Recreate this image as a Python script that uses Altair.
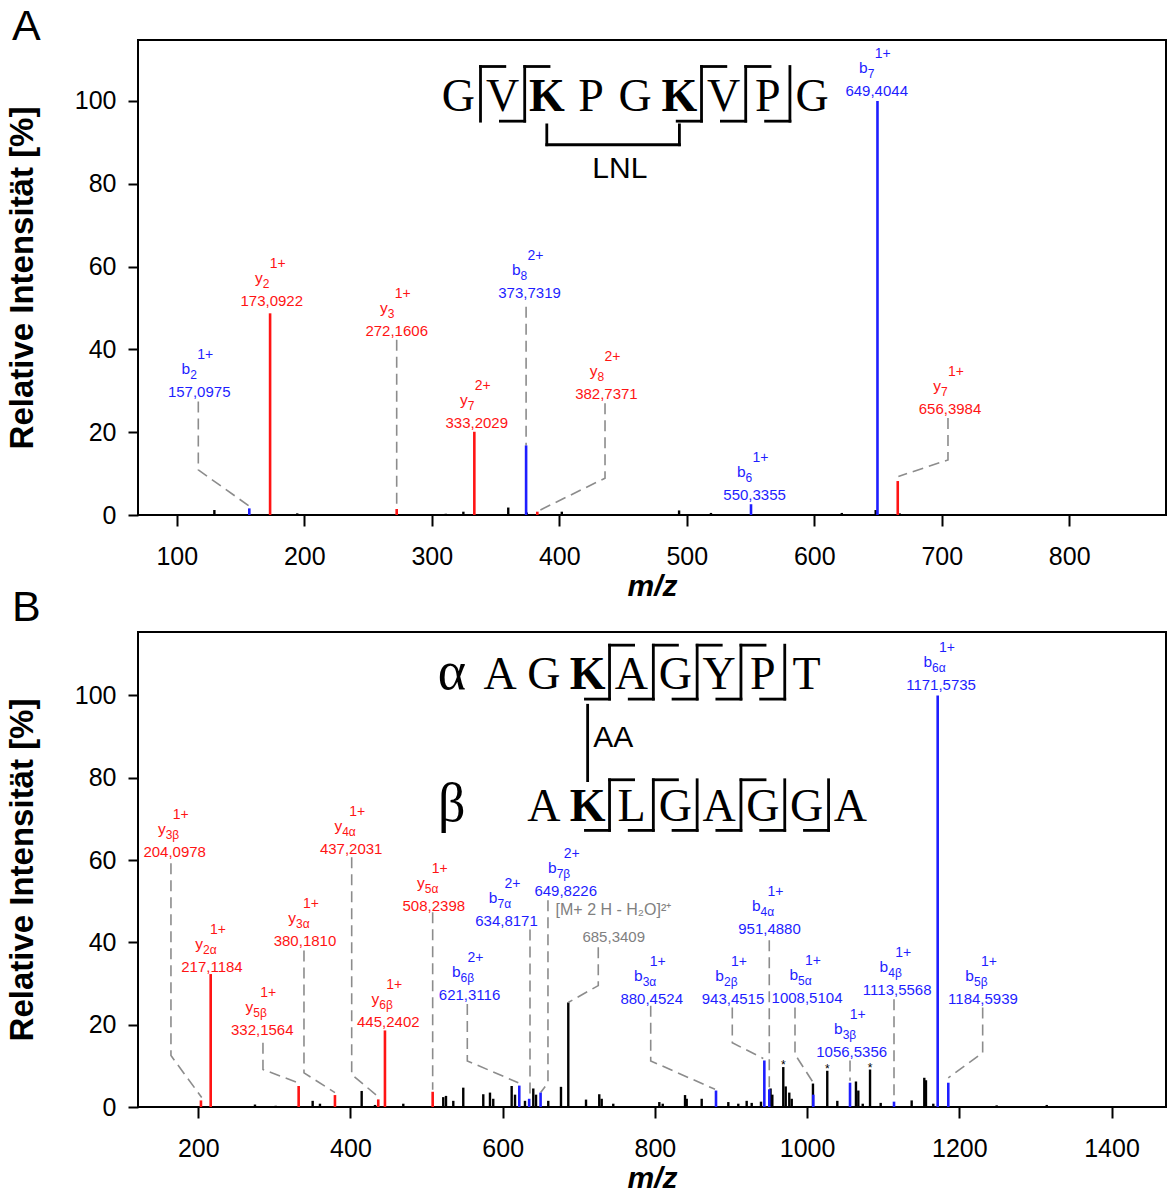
import altair as alt
import pandas as pd

SANS = "Liberation Sans"
SERIF = "Liberation Serif"
RED = "#ff1414"
BLUE = "#1e1eff"
GREY = "#8c8c8c"
MGREY = "#808080"

# ---------------- Panel A ----------------
A_XDOMAIN = [69.6, 875.9]
A_XTICKS = [100, 200, 300, 400, 500, 600, 700, 800]
A_YTOP = 114.7

A_black_mz = [129.5, 194.5, 311.0, 324.8, 360.0, 374.5, 402.0, 494.0, 519.0, 621.6, 648.2, 667.0]
A_black_int = [1.2, 0.4, 0.3, 0.8, 1.8, 0.6, 0.8, 1.1, 0.5, 0.5, 1.2, 0.4]

A_ion_mz = [156.9, 173.2, 272.5, 333.4, 374.0, 382.8, 550.4, 649.6, 665.5]
A_ion_int = [1.6, 48.7, 1.45, 20.1, 16.8, 0.8, 2.6, 100.0, 8.2]
A_ion_series = ["b", "y", "y", "y", "b", "y", "b", "b", "y"]
A_ion_sub = ["2", "2", "3", "7", "8", "8", "6", "7", "7"]
A_ion_charge = ["1+", "1+", "1+", "2+", "2+", "2+", "1+", "1+", "1+"]
A_ion_value = ["157,0975", "173,0922", "272,1606", "333,2029", "373,7319",
               "382,7371", "550,3355", "649,4044", "656,3984"]
A_label_mz = [117.6, 174.5, 272.5, 335.3, 376.7, 437.0, 553.2, 649.0, 706.5]
A_label_int = [28.4, 50.4, 43.3, 21.1, 52.5, 27.9, 3.6, 101.1, 24.3]

A_leader_mz = [[116.9, 116.9, 157.5], [272.5, 272.5], [374.0, 374.0],
               [435.9, 435.9, 382.4], [704.9, 704.9, 666.0]]
A_leader_int = [[27.4, 10.9, 2.0], [42.3, 1.6], [50.3, 16.8],
                [27.0, 8.9, 0.8], [23.4, 13.3, 9.3]]

A_seq = list("GVKPGKVPG")
A_seq_bold = [2, 5]
A_seq_x0 = 320.9
A_seq_step = 34.67
A_seq_base = 97.6
A_br_top = 108.3
A_br_bot = 95.1
A_sites_top = [0, 1, 5, 6]
A_sites_bot = [1, 5, 6, 7]
A_link_idx = [2, 5]
A_link_top = 94.2
A_link_bot = 89.4
A_link_text = "LNL"
A_link_text_mz = 447.5
A_link_text_int = 81.3

# ---------------- Panel B ----------------
B_XDOMAIN = [120.8, 1471.6]
B_XTICKS = [200, 400, 600, 800, 1000, 1200, 1400]
B_YTOP = 115.4

B_black_mz = [274.5, 301.7, 350.3, 359.9, 414.7, 432.2, 469.4, 521.9, 525.5, 535.1, 548.2,
              574.5, 583.3, 587.6, 611.8, 616.2, 629.3, 640.2, 643.8, 659.9, 676.6, 686.2,
              709.5, 726.9, 730.1, 745.3, 805.8, 810.3, 839.6, 841.8, 861.5, 896.5, 909.6,
              920.6, 927.2, 939.4, 952.0, 954.3, 968.7, 971.9, 976.6, 979.8, 1007.7, 1026.5,
              1039.7, 1064.2, 1067.3, 1073.1, 1082.7, 1096.7, 1137.4, 1154.0, 1156.2, 1165.8,
              1249.1, 1314.9]
B_black_int = [0.6, 0.3, 1.5, 0.8, 3.9, 0.5, 0.8, 2.4, 2.7, 1.5, 4.7,
               3.1, 3.5, 2.0, 5.1, 3.0, 1.5, 4.5, 3.0, 1.5, 4.9, 25.4,
               1.8, 3.1, 2.0, 0.8, 1.2, 0.8, 2.9, 2.0, 2.0, 1.2, 0.8,
               1.5, 1.0, 1.3, 4.5, 3.0, 9.7, 5.0, 3.5, 2.0, 5.7, 8.8,
               1.5, 6.2, 4.0, 0.8, 9.1, 1.0, 1.6, 7.1, 6.5, 0.8,
               0.4, 0.5]

B_star_mz = [968.7, 1026.5, 1082.7]
B_star_int = [9.7, 8.8, 9.1]

B_ion_mz = [203.5, 216.3, 331.9, 379.6, 436.5, 445.3, 508.0, 621.8, 634.8, 649.8,
            880.3, 943.8, 950.3, 1008.1, 1056.4, 1114.2, 1171.6, 1185.5]
B_ion_int = [1.6, 32.3, 5.1, 2.9, 1.85, 18.6, 3.7, 5.2, 2.0, 3.5,
             4.0, 11.3, 4.3, 3.0, 5.9, 1.3, 100.0, 5.9]
B_ion_series = ["y", "y", "y", "y", "y", "y", "y", "b", "b", "b",
                "b", "b", "b", "b", "b", "b", "b", "b"]
B_ion_sub = ["3β", "2α", "5β", "3α", "4α", "6β", "5α", "6β", "7α", "7β",
             "3α", "2β", "4α", "5α", "3β", "4β", "6α", "5β"]
B_ion_charge = ["1+", "1+", "1+", "1+", "1+", "1+", "1+", "2+", "2+", "2+",
                "1+", "1+", "1+", "1+", "1+", "1+", "1+", "1+"]
B_ion_value = ["204,0978", "217,1184", "332,1564", "380,1810", "437,2031", "445,2402",
               "508,2398", "621,3116", "634,8171", "649,8226", "880,4524", "943,4515",
               "951,4880", "1008,5104", "1056,5356", "1113,5568", "1171,5735", "1184,5939"]
B_label_mz = [169.0, 218.0, 284.1, 340.2, 400.9, 449.7, 509.5, 556.4, 605.0, 682.8,
              795.8, 902.6, 950.6, 999.9, 1058.6, 1118.4, 1176.0, 1231.1]
B_label_int = [60.7, 32.9, 17.5, 39.1, 61.4, 19.5, 47.6, 26.1, 43.9, 51.3,
               25.0, 25.0, 42.0, 25.2, 12.1, 27.1, 101.2, 25.1]

B_prec_name = "[M+ 2 H - H₂O]²⁺"
B_prec_value = "685,3409"
B_prec_name_mz = 745.5
B_prec_name_int = 46.7
B_prec_value_mz = 745.9
B_prec_value_int = 40.0

B_leader_mz = [[164.1, 164.1, 204.5], [285.0, 285.0, 331.0], [338.9, 338.9, 379.6],
               [401.6, 401.6, 436.5], [508.0, 508.0], [553.5, 553.5, 620.5],
               [635.9, 635.9], [659.5, 659.5, 649.9], [725.6, 725.6, 686.2],
               [794.5, 794.5, 879.0], [901.7, 901.7, 942.4], [950.3, 950.3],
               [984.1, 984.1, 1008.1], [1056.4, 1056.4], [1114.2, 1114.2],
               [1230.7, 1230.7, 1185.5]]
B_leader_int = [[59.2, 12.5, 2.3], [15.6, 9.1, 5.9], [38.0, 8.3, 3.5],
                [60.7, 7.9, 2.5], [47.3, 4.2], [25.0, 11.2, 5.9],
                [43.1, 2.3], [50.2, 5.9, 3.5], [38.8, 29.5, 25.4],
                [24.6, 11.2, 4.3], [24.2, 15.6, 11.8], [40.5, 4.7],
                [24.2, 12.8, 5.9], [11.3, 6.4], [26.2, 2.3],
                [24.2, 13.2, 7.1]]

B_seq_x0 = 596.5
B_seq_step = 57.56
B_alpha = list("AGKAGYPT")       # positions 0..7
B_alpha_bold = [2]
B_alpha_base = 101.6
B_alpha_top = 112.2
B_alpha_bot = 99.1
B_alpha_sites_top = [2, 3, 4, 5]
B_alpha_sites_bot = [2, 3, 4, 5, 6]
B_beta = list("AKLGAGGA")        # positions 1..8
B_beta_bold = [2]
B_beta_base = 69.6
B_beta_top = 79.5
B_beta_bot = 67.2
B_beta_sites_top = [2, 3, 5]
B_beta_sites_bot = [2, 3, 4, 5, 6, 7]
B_link_top = 97.6
B_link_bot = 79.3
B_link_text = "AA"
B_link_text_mz = 719.0
B_link_text_int = 87.4

W = 1028
H = 475


def seq_letters(letters, start, x0, step, base, bold):
    rows = []
    for k, ch in enumerate(letters):
        pos = start + k
        rows.append({"x": x0 + pos * step, "y": base, "t": ch, "bold": pos in bold})
    return pd.DataFrame(rows)


def bracket_segments(x0, step, top, bot, sites_top, sites_bot, hook=0.55):
    rows = []
    for s in sorted(set(sites_top) | set(sites_bot)):
        xm = x0 + (s + 0.5) * step
        rows.append({"x": xm, "x2": xm, "y": bot, "y2": top})
        if s in sites_top:
            rows.append({"x": xm, "x2": xm + hook * step, "y": top, "y2": top})
        if s in sites_bot:
            rows.append({"x": xm - hook * step, "x2": xm, "y": bot, "y2": bot})
    return pd.DataFrame(rows)


def panel(xdomain, xticks, ytop, black_mz, black_int, ion_mz, ion_int, ion_series,
          ion_sub, ion_charge, ion_value, label_mz, label_int, leader_mz, leader_int,
          extra):
    xs = alt.Scale(domain=xdomain, nice=False, zero=False)
    ys = alt.Scale(domain=[0, ytop], nice=False)
    xax = alt.Axis(values=xticks, title="m/z", format="d")
    yax = alt.Axis(values=[0, 20, 40, 60, 80, 100], title="Relative Intensität [%]")

    def X(f):
        return alt.X(f, type="quantitative", scale=xs, axis=xax)

    def Y(f):
        return alt.Y(f, type="quantitative", scale=ys, axis=yax)

    black = pd.DataFrame({"mz": black_mz, "i": black_int, "z": 0.0})
    l_black = alt.Chart(black).mark_rule(color="black", strokeWidth=2.4).encode(
        x=X("mz"), y=Y("i"), y2="z")

    rows = []
    for k, (xs_, ys_) in enumerate(zip(leader_mz, leader_int)):
        for j, (a, b) in enumerate(zip(xs_, ys_)):
            rows.append({"id": k, "o": j, "mz": a, "i": b})
    lead = pd.DataFrame(rows)
    l_lead = alt.Chart(lead).mark_line(color=GREY, strokeWidth=1.6, strokeDash=[11, 6]).encode(
        x=X("mz"), y=Y("i"), detail="id:N", order="o:Q")

    cols = [RED if s == "y" else BLUE for s in ion_series]
    ions = pd.DataFrame({"mz": ion_mz, "i": ion_int, "z": 0.0, "col": cols})
    l_ions = alt.Chart(ions).mark_rule(strokeWidth=2.6).encode(
        x=X("mz"), y=Y("i"), y2="z", color=alt.Color("col:N", scale=None))

    labs = pd.DataFrame({"lx": label_mz, "ly": label_int, "ion": ion_series,
                         "sub": ion_sub, "ch": ion_charge, "v": ion_value, "col": cols})
    base = alt.Chart(labs).encode(x=X("lx"), y=Y("ly"), color=alt.Color("col:N", scale=None))
    t_val = base.mark_text(font=SANS, fontSize=15, align="center", baseline="alphabetic").encode(text="v:N")
    t_ion = base.mark_text(font=SANS, fontSize=15.5, align="right", baseline="alphabetic",
                           dx=-9, dy=-23).encode(text="ion:N")
    t_sub = base.mark_text(font=SANS, fontSize=12, align="left", baseline="alphabetic",
                           dx=-9, dy=-18).encode(text="sub:N")
    t_ch = base.mark_text(font=SANS, fontSize=14, align="left", baseline="alphabetic",
                          dx=-2, dy=-38).encode(text="ch:N")

    layers = [l_black, l_lead, l_ions, t_val, t_ion, t_sub, t_ch]
    layers += extra(X, Y)
    return alt.layer(*layers).properties(width=W, height=H)


def seq_layers(X, Y, letter_frames, seg_frames, fontsize=46):
    out = []
    for df in letter_frames:
        out.append(alt.Chart(df[~df["bold"]]).mark_text(
            font=SERIF, fontSize=fontsize, align="center", baseline="alphabetic", color="black"
        ).encode(x=X("x"), y=Y("y"), text="t:N"))
        out.append(alt.Chart(df[df["bold"]]).mark_text(
            font=SERIF, fontSize=fontsize, fontWeight="bold", align="center",
            baseline="alphabetic", color="black"
        ).encode(x=X("x"), y=Y("y"), text="t:N"))
    for seg in seg_frames:
        out.append(alt.Chart(seg).mark_rule(color="black", strokeWidth=2.8, strokeCap="square").encode(
            x=X("x"), x2="x2", y=Y("y"), y2="y2"))
    return out


def extra_A(X, Y):
    letters = seq_letters(A_seq, 0, A_seq_x0, A_seq_step, A_seq_base, A_seq_bold)
    segs = bracket_segments(A_seq_x0, A_seq_step, A_br_top, A_br_bot, A_sites_top, A_sites_bot)
    xa = A_seq_x0 + A_link_idx[0] * A_seq_step
    xb = A_seq_x0 + A_link_idx[1] * A_seq_step
    link = pd.DataFrame([
        {"x": xa, "x2": xa, "y": A_link_top, "y2": A_link_bot},
        {"x": xb, "x2": xb, "y": A_link_top, "y2": A_link_bot},
        {"x": xa, "x2": xb, "y": A_link_bot, "y2": A_link_bot},
    ])
    out = seq_layers(X, Y, [letters], [segs, link])
    out.append(alt.Chart(pd.DataFrame({"x": [A_link_text_mz], "y": [A_link_text_int], "t": [A_link_text]}))
               .mark_text(font=SANS, fontSize=30, align="center", baseline="alphabetic", color="black")
               .encode(x=X("x"), y=Y("y"), text="t:N"))
    panel_lab = pd.DataFrame({"t": ["A", "B"], "py": [0, 581]})
    out.append(alt.Chart(panel_lab).mark_text(font=SANS, fontSize=43, align="left",
                                              baseline="alphabetic", color="black")
               .encode(x=alt.value(-126), y=alt.Y("py:Q", scale=None, axis=None), text="t:N"))
    return out


def extra_B(X, Y):
    la = seq_letters(B_alpha, 0, B_seq_x0, B_seq_step, B_alpha_base, B_alpha_bold)
    lb = seq_letters(B_beta, 1, B_seq_x0, B_seq_step, B_beta_base, B_beta_bold)
    sa = bracket_segments(B_seq_x0, B_seq_step, B_alpha_top, B_alpha_bot,
                          B_alpha_sites_top, B_alpha_sites_bot)
    sb = bracket_segments(B_seq_x0, B_seq_step, B_beta_top, B_beta_bot,
                          B_beta_sites_top, B_beta_sites_bot)
    xk = B_seq_x0 + 2 * B_seq_step
    link = pd.DataFrame([{"x": xk, "x2": xk, "y": B_link_top, "y2": B_link_bot}])
    out = seq_layers(X, Y, [la, lb], [sa, sb, link])
    greek = pd.DataFrame({"x": [B_seq_x0 - 1.1 * B_seq_step] * 2,
                          "y": [B_alpha_base, B_beta_base], "t": ["α", "β"]})
    out.append(alt.Chart(greek).mark_text(font=SERIF, fontSize=54, align="center",
                                          baseline="alphabetic", color="black")
               .encode(x=X("x"), y=Y("y"), text="t:N"))
    out.append(alt.Chart(pd.DataFrame({"x": [B_link_text_mz], "y": [B_link_text_int], "t": [B_link_text]}))
               .mark_text(font=SANS, fontSize=30, align="left", baseline="alphabetic", color="black")
               .encode(x=X("x"), y=Y("y"), text="t:N"))
    prec = pd.DataFrame({"x": [B_prec_name_mz, B_prec_value_mz],
                         "y": [B_prec_name_int, B_prec_value_int],
                         "t": [B_prec_name, B_prec_value],
                         "fs": [16, 15]})
    out.append(alt.Chart(prec).mark_text(font=SANS, align="center",
                                         baseline="alphabetic", color=MGREY)
               .encode(x=X("x"), y=Y("y"), text="t:N",
                       size=alt.Size("fs:Q", scale=None, legend=None)))
    stars = pd.DataFrame({"x": B_star_mz, "y": B_star_int})
    out.append(alt.Chart(stars).mark_text(font=SANS, fontSize=12, text="*", dy=2,
                                          baseline="alphabetic", color="black")
               .encode(x=X("x"), y=Y("y")))
    return out


chartA = panel(A_XDOMAIN, A_XTICKS, A_YTOP, A_black_mz, A_black_int, A_ion_mz, A_ion_int,
               A_ion_series, A_ion_sub, A_ion_charge, A_ion_value, A_label_mz, A_label_int,
               A_leader_mz, A_leader_int, extra_A)
chartB = panel(B_XDOMAIN, B_XTICKS, B_YTOP, B_black_mz, B_black_int, B_ion_mz, B_ion_int,
               B_ion_series, B_ion_sub, B_ion_charge, B_ion_value, B_label_mz, B_label_int,
               B_leader_mz, B_leader_int, extra_B)

chart = alt.vconcat(chartA, chartB, spacing=0).properties(
    padding={"left": 5, "top": 5, "right": 0, "bottom": 2}
).configure_view(stroke="black", strokeWidth=2).configure_axis(
    labelFont=SANS, labelFontSize=25, labelColor="black",
    titleFont=SANS, titleFontSize=31, titleFontWeight="bold", titleColor="black",
    tickColor="black", tickWidth=2, grid=False, domain=False
).configure_axisX(
    tickSize=11, labelPadding=18, titlePadding=2, titleFontStyle="italic", titleFontSize=30
).configure_axisY(
    tickSize=10, labelPadding=12, titlePadding=35, titleFontSize=33
)

chart.save("out.html", embed_options={"renderer": "svg", "actions": False})
